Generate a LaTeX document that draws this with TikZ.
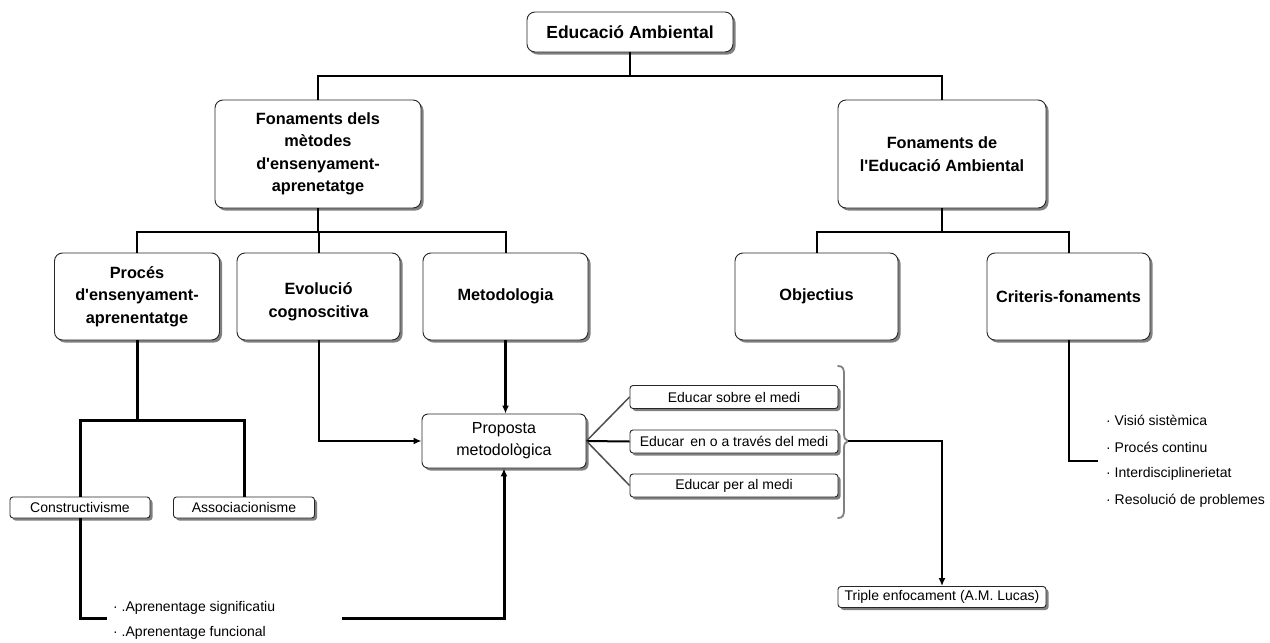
\documentclass[tikz,border=0pt]{standalone}
\usepackage{fontspec}
\setmainfont{Liberation Sans}[Ligatures=TeXOff]
\usetikzlibrary{arrows.meta}
\begin{document}
\begin{tikzpicture}[x=1pt,y=-1pt,
  shadowed/.style={preaction={fill=black!50, transform canvas={xshift=2.5pt,yshift=-2.5pt}}},
  bigbox/.style={shadowed, draw=black!85, line width=0.9pt, fill=white, rounded corners=8pt,
    align=center, font=\fontsize{16.3}{22.5}\selectfont\bfseries, inner sep=0pt},
  propbox/.style={shadowed, draw=black!85, line width=0.9pt, fill=white, rounded corners=6pt,
    align=center, font=\fontsize{16}{22}\selectfont, inner sep=0pt},
  smallbox/.style={shadowed, draw=black!85, line width=0.9pt, fill=white, rounded corners=3pt,
    align=center, font=\fontsize{14}{16}\selectfont, inner sep=0pt},
  conn/.style={line width=2pt},
  thickconn/.style={line width=3pt},
  fan/.style={line width=1.5pt, draw=black!70},
  arr/.style={-{Latex[length=8pt,width=7pt]}},
  bullettext/.style={anchor=west, font=\fontsize{14}{16}\selectfont, inner sep=0pt}
]
\useasboundingbox (0,0) rectangle (1270,643);

% boxes
\node[bigbox, minimum width=206pt, minimum height=40pt, font=\fontsize{17.5}{20}\selectfont\bfseries] (top) at (630,32) {Educació Ambiental};
\node[bigbox, minimum width=206pt, minimum height=108pt] (fl) at (318,154) {Fonaments dels\\mètodes\\d'ensenyament-\\aprenetatge};
\node[bigbox, minimum width=208pt, minimum height=108pt] (fr) at (942,154) {Fonaments de\\l'Educació Ambiental};

\node[bigbox, minimum width=165pt, minimum height=87pt] (proc) at (137,296.5) {Procés\\d'ensenyament-\\aprenentatge};
\node[bigbox, minimum width=163pt, minimum height=87pt] (evo) at (318.5,296.5) {\mbox{}\\Evolució\\cognoscitiva};
\node[bigbox, minimum width=165pt, minimum height=87pt] (met) at (505.5,296.5) {Metodologia};
\node[bigbox, minimum width=163pt, minimum height=87pt] (obj) at (816.5,296.5) {Objectius};
\node[bigbox, minimum width=163pt, minimum height=87pt] (cri) at (1068.5,296.5) {Criteris-fonaments};

\node[propbox, minimum width=164pt, minimum height=54pt] (prop) at (504,441) {Proposta\\metodològica};

\node[smallbox, minimum width=140pt, minimum height=21pt] (cons) at (80,507.5) {Constructivisme};
\node[smallbox, minimum width=141pt, minimum height=21pt] (asso) at (244,507.5) {Associacionisme};

\node[smallbox, minimum width=208pt, minimum height=23pt] (es) at (734,397) {Educar sobre el medi};
\node[smallbox, minimum width=208pt, minimum height=23pt] (ee) at (734,441.5) {Educar\, en o a través del medi};
\node[smallbox, minimum width=208pt, minimum height=23pt] (ep) at (734,485.5) {Educar per al medi};

\node[smallbox, minimum width=208pt, minimum height=21pt] (trip) at (942,597) {Triple enfocament (A.M. Lucas)};

% bullet texts
\node[bullettext] (v1) at (1106,420) {· Visió sistèmica};
\node[bullettext] (v2) at (1106,447) {· Procés continu};
\node[bullettext] (v3) at (1106,474) {· Interdisciplinerietat};
\node[bullettext] (v4) at (1106,501) {· Resolució de problemes};
\node[bullettext] (a1) at (113,608) {· .Aprenentage significatiu};
\node[bullettext] (a2) at (113,633) {· .Aprenentage funcional};

% junction coordinates
\coordinate (tj) at (630,76);
\coordinate (lj) at (318,232);
\coordinate (rj) at (942,232);
\coordinate (pj) at (137,420);
\coordinate (bl) at (107,618);
\coordinate (br) at (342,618);
\coordinate (bt) at (848,441);
\coordinate (cend) at (1098,461);

% top level connectors
\draw[conn] (top.south) -- (tj);
\draw[conn] (fl.north) |- (tj) -| (fr.north);
\draw[conn] (fl.south) -- (lj);
\draw[conn] (proc.north) |- (lj) -| (met.north);
\draw[conn] (evo.north) -- (evo.north |- lj);
\draw[conn] (fr.south) -- (rj);
\draw[conn] (obj.north) |- (rj) -| (cri.north);

% Proces subtree
\draw[thickconn] (proc.south) -- (pj);
\draw[thickconn] (cons.north) |- (pj) -| (asso.north);
\draw[thickconn] (cons.south) |- (bl);
\draw[thickconn, arr] (br) -| (prop.south);

% into Proposta
\draw[conn, arr] (evo.south) |- (prop.west);
\draw[thickconn, arr] (met.south) -- (met.south |- prop.north);

% fan out
\draw[fan] (prop.east) -- (es.west);
\draw[conn] (prop.east) -- (ee.west);
\draw[fan] (prop.east) -- (ep.west);

% brace
\draw[line width=1.8pt, draw=black!50, line cap=round]
  (838,366) .. controls (843,366) and (844,369) .. (844,374)
  -- (844,433) .. controls (844,438) and (845,440) .. (848,441)
  .. controls (845,442) and (844,444) .. (844,449)
  -- (844,510) .. controls (844,515) and (843,518) .. (838,518);

\draw[conn, arr] (bt) -| (trip.north);

% Criteris line
\draw[conn] (cri.south) |- (cend);
\end{tikzpicture}
\end{document}
